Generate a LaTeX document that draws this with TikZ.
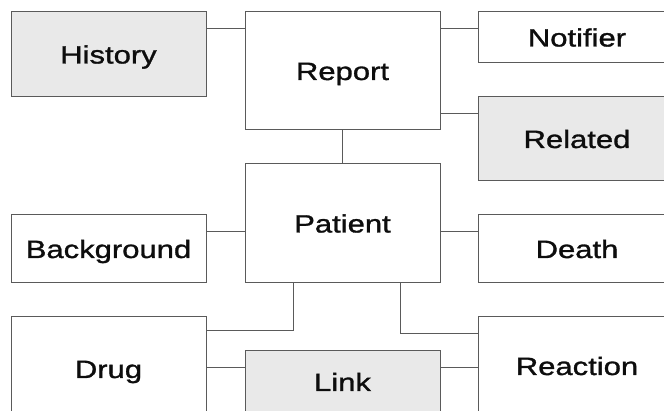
\documentclass[tikz,border=0pt]{standalone}
\usepackage{fontspec}
\setmainfont{Liberation Sans}[FakeStretch=1.24,FakeBold=1.2]
\definecolor{boxline}{HTML}{5A5A5A}
\definecolor{boxfill}{HTML}{E9E9E9}
\begin{document}
\begin{tikzpicture}[x=1pt,y=-1pt,
  ent/.style={draw=boxline, line width=1pt, anchor=north west, inner sep=0pt, outer sep=0pt,
    text height=18pt, text depth=0pt, font=\fontsize{25}{30}\selectfont, text=black!95},
  shade/.style={ent, fill=boxfill},
  conn/.style={draw=boxline, line width=1pt}]
\useasboundingbox (0,0) rectangle (664,411);
\clip (0,0) rectangle (664,411);
\node[shade, minimum width=195pt, minimum height=85pt] (history) at (11,12) {History};
\node[ent, minimum width=195pt, minimum height=118pt] (report) at (245,12) {Report};
\node[ent, minimum width=198pt, minimum height=51pt] (notifier) at (478,12) {Notifier};
\node[shade, minimum width=198pt, minimum height=84pt] (related) at (478,97) {Related};
\node[ent, minimum width=195pt, minimum height=119pt] (patient) at (245,164) {Patient};
\node[ent, minimum width=195pt, minimum height=68pt] (background) at (11,215) {Background};
\node[ent, minimum width=198pt, minimum height=68pt] (death) at (478,215) {Death};
\node[ent, minimum width=195pt, minimum height=104pt] (drug) at (11,317) {Drug};
\node[shade, minimum width=195pt, minimum height=62pt] (link) at (245,351) {Link};
\node[ent, minimum width=198pt, minimum height=98pt] (reaction) at (478,317) {Reaction};
\draw[conn] (history.east |- 0,29) -- (report.west |- 0,29);
\draw[conn] (report.east |- 0,29) -- (notifier.west |- 0,29);
\draw[conn] (report.east |- 0,114) -- (related.west |- 0,114);
\draw[conn] (report.south -| 342,0) -- (patient.north -| 342,0);
\draw[conn] (background.east |- 0,232) -- (patient.west |- 0,232);
\draw[conn] (patient.east |- 0,232) -- (death.west |- 0,232);
\draw[conn] (patient.south -| 293,0) |- (drug.east |- 0,331);
\draw[conn] (patient.south -| 400,0) |- (reaction.west |- 0,334);
\draw[conn] (drug.east |- 0,368) -- (link.west |- 0,368);
\draw[conn] (link.east |- 0,368) -- (reaction.west |- 0,368);
\end{tikzpicture}
\end{document}
